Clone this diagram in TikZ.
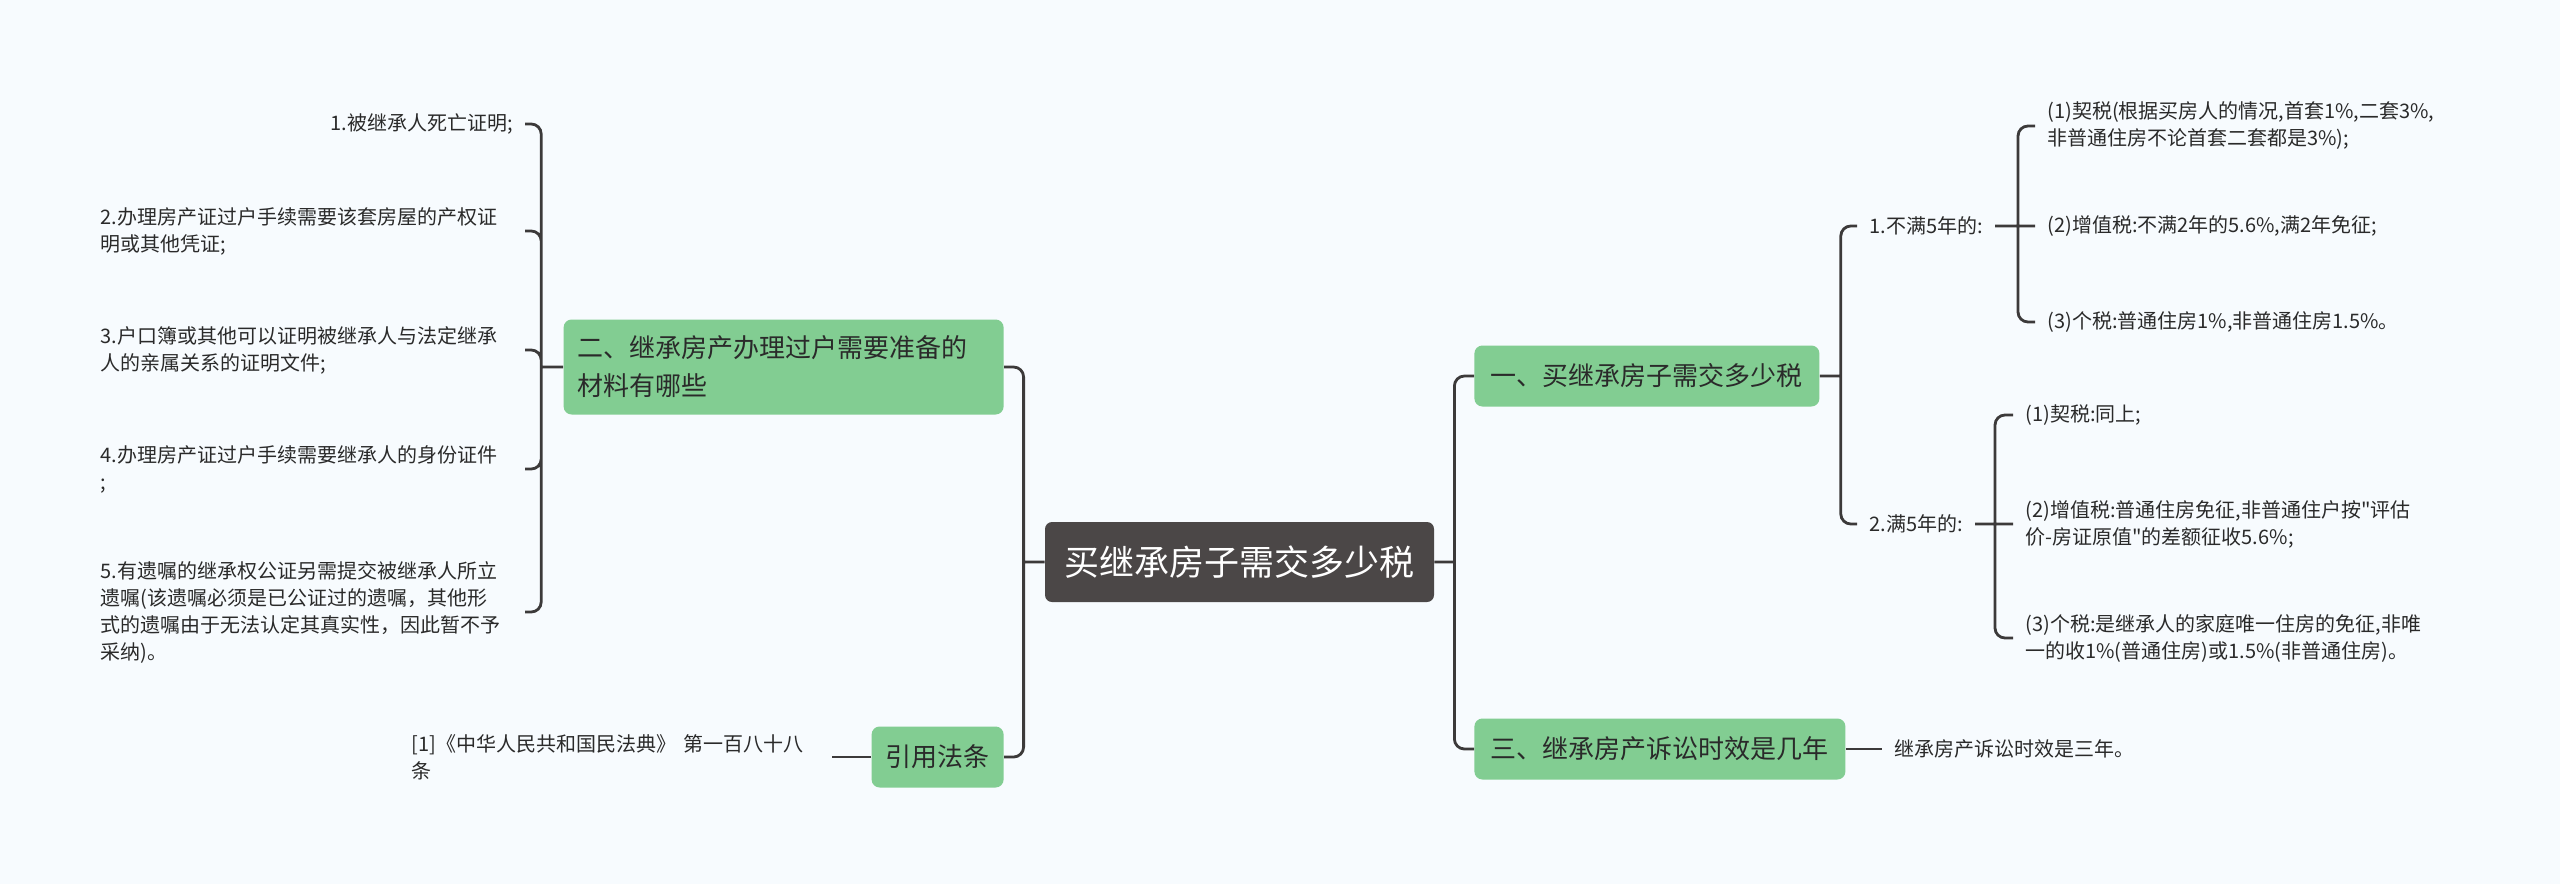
\documentclass[tikz,border=0pt]{standalone}
\usepackage{fontspec}
\setmainfont{Noto Sans CJK SC}[Ligatures=TeXOff]
\usetikzlibrary{positioning}

\definecolor{paper}{HTML}{F7FBFE}
\definecolor{rootgray}{HTML}{4B4747}
\definecolor{topicgreen}{HTML}{82CD92}
\definecolor{linegray}{HTML}{3C3A3A}
\definecolor{textgray}{HTML}{2A2A2A}

\begin{document}
\begin{tikzpicture}[x = 0.5pt, y = -0.5pt,
  every node/.style = {inner sep = 0pt, text = textgray,
    font = \fontsize{10pt}{13.5pt}\selectfont},
  rootbox/.style = {rectangle, rounded corners = 3.5pt, fill = rootgray,
    text = white, font = \fontsize{17.5pt}{21pt}\selectfont,
    minimum width = 194.5pt, minimum height = 40pt},
  topic/.style = {rectangle, rounded corners = 4pt, fill = topicgreen,
    font = \fontsize{13pt}{19pt}\selectfont, inner xsep = 7pt,
    minimum height = 30.5pt, align = left},
  leaf/.style = {inner xsep = 6pt, inner ysep = 2pt, align = left},
  wideleaf/.style = {leaf, text width = 206pt},
  link/.style = {draw = linegray, line width = 1.4pt, rounded corners = 5pt}]

  \fill [paper] (0, 0) rectangle (2560, 884);

  \node (root) [rootbox] at (1239.5, 562) {买继承房子需交多少税};

  \node (b1) [topic, anchor = west, minimum width = 172.5pt] at (1474, 376) {一、买继承房子需交多少税};
  \node (b3) [topic, anchor = west, minimum width = 185.5pt] at (1474, 749) {三、继承房产诉讼时效是几年};
  \node (b3leaf) [leaf, right = 18pt of b3] {继承房产诉讼时效是三年。};

  \node (n1) [leaf, anchor = west] at (1857, 226) {1.不满5年的:};
  \node (n2) [leaf, anchor = west] at (1857, 524) {2.满5年的:};

  \node (c11) [leaf, anchor = west] at (2035, 126) {(1)契税(根据买房人的情况,首套1\%,二套3\%,\\非普通住房不论首套二套都是3\%);};
  \node (c12) [leaf, anchor = west] at (2035, 226) {(2)增值税:不满2年的5.6\%,满2年免征;};
  \node (c13) [leaf, anchor = west] at (2035, 322) {(3)个税:普通住房1\%,非普通住房1.5\%。};

  \node (c21) [leaf, anchor = west] at (2013, 415) {(1)契税:同上;};
  \node (c22) [leaf, anchor = west] at (2013, 524) {(2)增值税:普通住房免征,非普通住户按"评估\\价-房证原值"的差额征收5.6\%;};
  \node (c23) [leaf, anchor = west] at (2013, 638) {(3)个税:是继承人的家庭唯一住房的免征,非唯\\一的收1\%(普通住房)或1.5\%(非普通住房)。};

  \node (b2) [topic, anchor = east, text width = 206pt, minimum height = 47.5pt] at (1004, 367) {二、继承房产办理过户需要准备的\\材料有哪些};
  \node (cite) [topic, anchor = east, minimum width = 66pt] at (1004, 757) {引用法条};
  \node (citeleaf) [leaf, text width = 204pt, left = 19.5pt of cite] {[1]《中华人民共和国民法典》 第一百八十八\\条};

  \node (l1) [leaf, anchor = east] at (525, 124) {1.被继承人死亡证明;};
  \node (l2) [wideleaf, anchor = east] at (525, 231) {2.办理房产证过户手续需要该套房屋的产权证\\明或其他凭证;};
  \node (l3) [wideleaf, anchor = east] at (525, 350) {3.户口簿或其他可以证明被继承人与法定继承\\人的亲属关系的证明文件;};
  \node (l4) [wideleaf, anchor = east] at (525, 469) {4.办理房产证过户手续需要继承人的身份证件\\;};
  \node (l5) [wideleaf, anchor = east] at (525, 612) {5.有遗嘱的继承权公证另需提交被继承人所立\\遗嘱(该遗嘱必须是已公证过的遗嘱，其他形\\式的遗嘱由于无法认定其真实性，因此暂不予\\采纳)。};

  \coordinate [right = 10pt of root.east] (jR);
  \coordinate [left = 10.5pt of root.west] (jL);
  \coordinate [right = 10.5pt of b1.east] (j1);
  \coordinate [left = 11pt of b2.west] (j2);
  \coordinate [left = 8.5pt of c12.west] (jn1);
  \coordinate [left = 9pt of c22.west] (jn2);

  \draw [link] (root.east) -- (jR) (jR) |- (b1.west) (jR) |- (b3.west);
  \draw [link] (b1.east) -- (j1) (j1) |- (n1.west) (j1) |- (n2.west);
  \draw [link] (n1.east) -- (jn1) (jn1) |- (c11.west) (jn1) -- (c12.west) (jn1) |- (c13.west);
  \draw [link] (n2.east) -- (jn2) (jn2) |- (c21.west) (jn2) -- (c22.west) (jn2) |- (c23.west);
  \draw [link] (b3.east) -- (b3leaf.west);
  \draw [link] (root.west) -- (jL) (jL) |- (b2.east) (jL) |- (cite.east);
  \draw [link] (b2.west) -- (j2) (j2) |- (l1.east) (j2) |- (l2.east) (j2) |- (l3.east)
    (j2) |- (l4.east) (j2) |- (l5.east);
  \draw [link] (cite.west) -- (citeleaf.east);

\end{tikzpicture}
\end{document}
